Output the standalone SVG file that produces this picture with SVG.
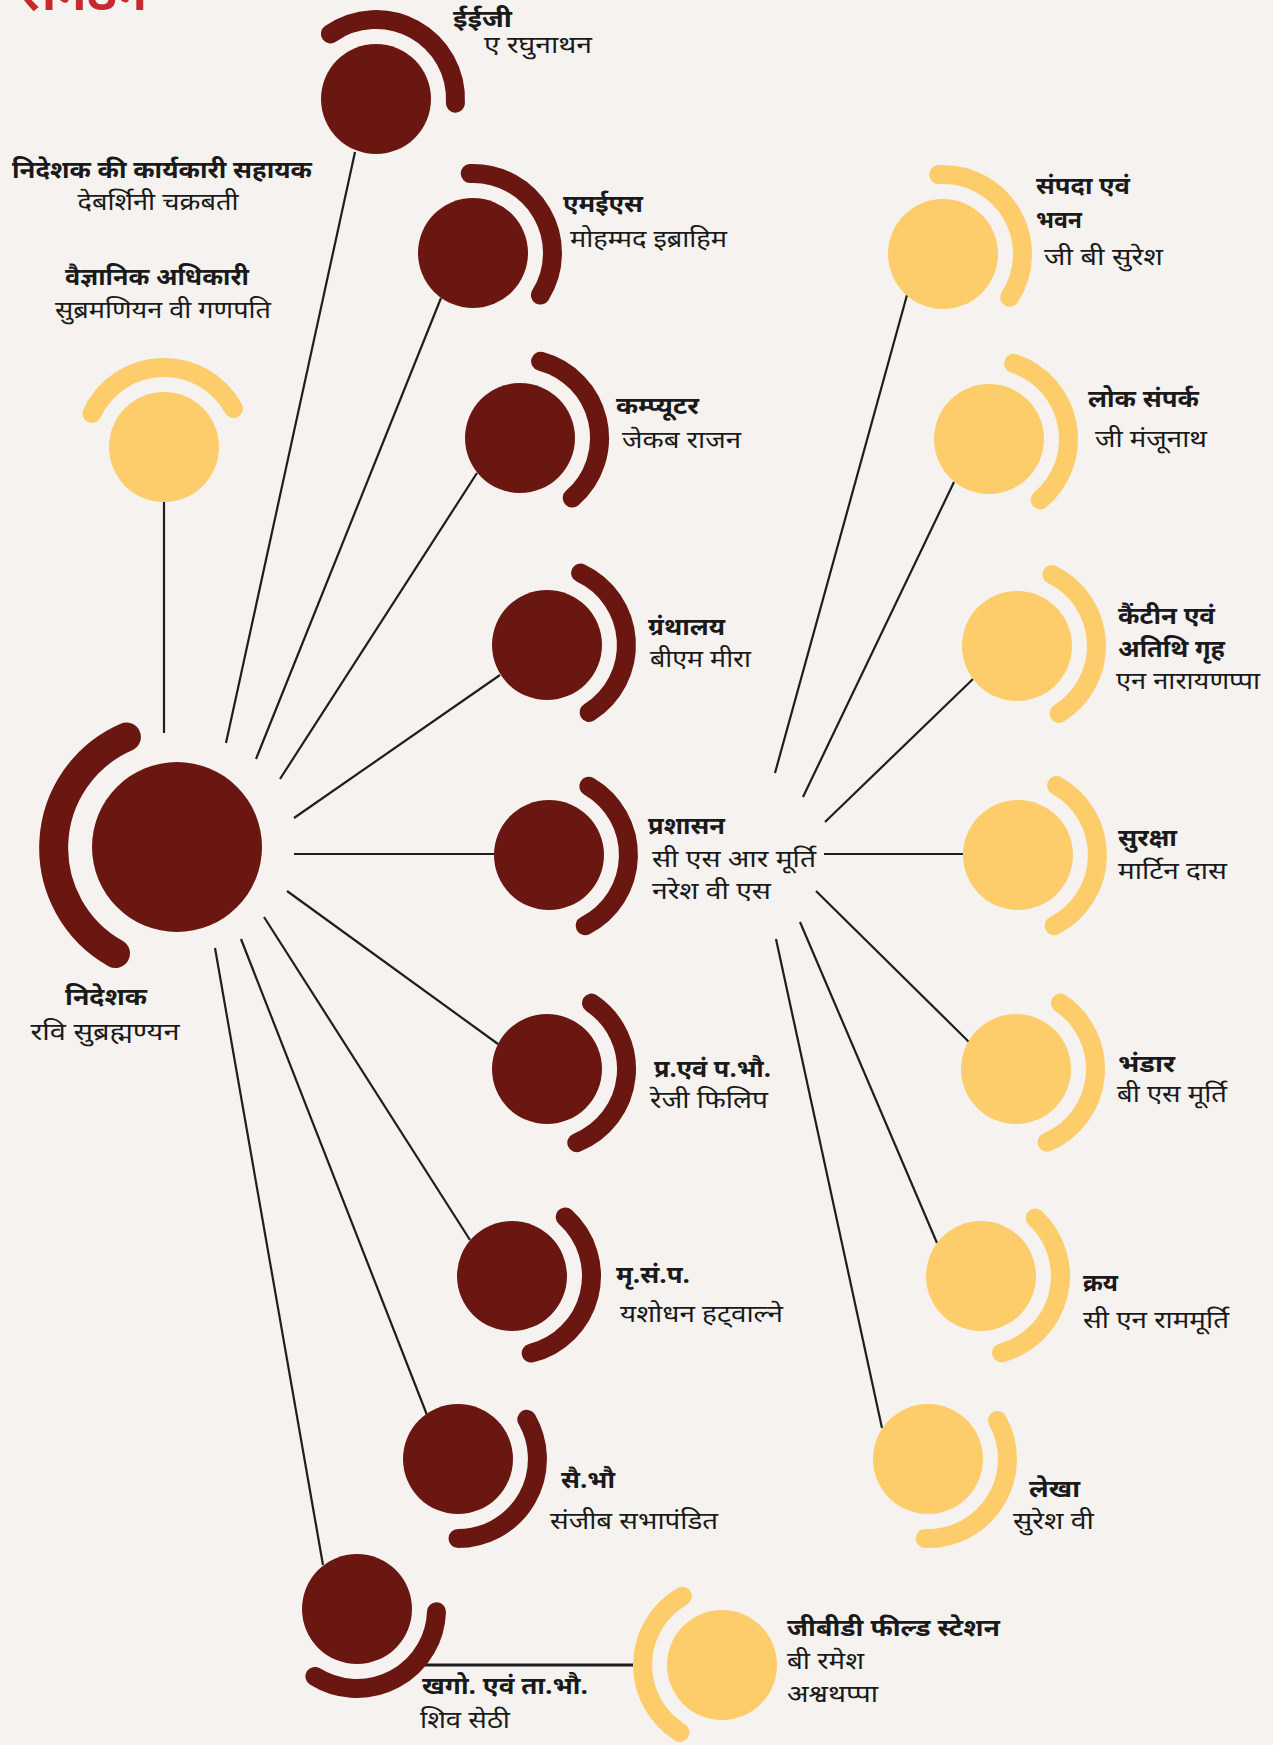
<svg xmlns="http://www.w3.org/2000/svg" width="1273" height="1745" viewBox="0 0 1273 1745">
<style>
.bg{fill:#f5f2f0}
.dk{fill:#6b1711}
.lt{fill:#fecd6b}
.adk{fill:none;stroke:#6b1711;stroke-width:19;stroke-linecap:round}
.alt{fill:none;stroke:#fecd6b;stroke-width:19;stroke-linecap:round}
.ln{stroke:#1e1e1e;stroke-width:2.2;fill:none}
text{font-family:"Noto Sans Devanagari","Lohit Devanagari","Noto Sans",sans-serif;fill:#1a1a1a;font-size:24px}
.t{font-weight:bold}
.n{font-weight:normal}
</style>
<rect class="bg" x="0" y="0" width="1273" height="1745"/>
<text x="20" y="10" textLength="127" lengthAdjust="spacingAndGlyphs" style="font-size:50px;font-weight:bold;fill:#c62a2f">संगठन</text>
<g id="connectors">
<line class="ln" x1="164" y1="502" x2="164" y2="733"/>
<line class="ln" x1="355" y1="152" x2="226" y2="743"/>
<line class="ln" x1="441" y1="298" x2="256" y2="759"/>
<line class="ln" x1="477" y1="473" x2="280" y2="779"/>
<line class="ln" x1="500" y1="675" x2="294" y2="818"/>
<line class="ln" x1="294" y1="854" x2="494" y2="854"/>
<line class="ln" x1="287" y1="891" x2="498" y2="1044"/>
<line class="ln" x1="264" y1="917" x2="470" y2="1240"/>
<line class="ln" x1="241" y1="939" x2="427" y2="1415"/>
<line class="ln" x1="215" y1="948" x2="323" y2="1565"/>
<line class="ln" x1="775" y1="773" x2="907" y2="295"/>
<line class="ln" x1="803" y1="797" x2="954" y2="482"/>
<line class="ln" x1="825" y1="822" x2="973" y2="679"/>
<line class="ln" x1="824" y1="854" x2="963" y2="854"/>
<line class="ln" x1="816" y1="891" x2="969" y2="1042"/>
<line class="ln" x1="800" y1="922" x2="937" y2="1243"/>
<line class="ln" x1="776" y1="939" x2="882" y2="1428"/>
<line class="ln" x1="422" y1="1665" x2="633" y2="1665" style="stroke-width:3"/>
</g>
<g id="director">
<path class="adk" d="M115.5,953.5 A121,121 0 0 1 126.4,737" style="stroke-width:29"/>
<circle class="dk" cx="177" cy="847" r="85"/>
<text class="t" x="106" y="1005" text-anchor="middle" textLength="82" lengthAdjust="spacingAndGlyphs">निदेशक</text>
<text class="n" x="105" y="1040" text-anchor="middle" textLength="149" lengthAdjust="spacingAndGlyphs">रवि सुब्रह्मण्यन</text>
</g>
<g id="exec-assistant">
<text class="t" x="162" y="178" text-anchor="middle" textLength="300" lengthAdjust="spacingAndGlyphs">निदेशक की कार्यकारी सहायक</text>
<text class="n" x="158" y="210" text-anchor="middle" textLength="161" lengthAdjust="spacingAndGlyphs">देबर्शिनी चक्रबती</text>
</g>
<g id="sci-officer">
<path class="alt" d="M91.9,413.4 A79.5,79.5 0 0 1 233.5,408.5"/>
<circle class="lt" cx="164" cy="447" r="55"/>
<text class="t" x="157" y="285" text-anchor="middle" textLength="184" lengthAdjust="spacingAndGlyphs">वैज्ञानिक अधिकारी</text>
<text class="n" x="163" y="318" text-anchor="middle" textLength="216" lengthAdjust="spacingAndGlyphs">सुब्रमणियन वी गणपति</text>
</g>
<g id="eeg">
<path class="adk" d="M330.4,33.9 A79.5,79.5 0 0 1 455.4,103.2"/>
<circle class="dk" cx="376" cy="99" r="55"/>
<text class="t" x="453" y="27" textLength="59" lengthAdjust="spacingAndGlyphs">ईईजी</text>
<text class="n" x="484" y="53" textLength="108" lengthAdjust="spacingAndGlyphs">ए रघुनाथन</text>
</g>
<g id="mes">
<path class="adk" d="M470.2,173.5 A79.5,79.5 0 0 1 540.4,295.1"/>
<circle class="dk" cx="473" cy="253" r="55"/>
<text class="t" x="563" y="212" textLength="80" lengthAdjust="spacingAndGlyphs">एमईएस</text>
<text class="n" x="570" y="247" textLength="157" lengthAdjust="spacingAndGlyphs">मोहम्मद इब्राहिम</text>
</g>
<g id="computer">
<path class="adk" d="M540.6,361.2 A79.5,79.5 0 0 1 572.2,498"/>
<circle class="dk" cx="520" cy="438" r="55"/>
<text class="t" x="616" y="414" textLength="83" lengthAdjust="spacingAndGlyphs">कम्प्यूटर</text>
<text class="n" x="622" y="448" textLength="119" lengthAdjust="spacingAndGlyphs">जेकब राजन</text>
</g>
<g id="library">
<path class="adk" d="M580.6,573 A79.5,79.5 0 0 1 589.1,712.4"/>
<circle class="dk" cx="547" cy="645" r="55"/>
<text class="t" x="648" y="635" textLength="77" lengthAdjust="spacingAndGlyphs">ग्रंथालय</text>
<text class="n" x="650" y="667" textLength="101" lengthAdjust="spacingAndGlyphs">बीएम मीरा</text>
</g>
<g id="admin">
<path class="adk" d="M588.8,786.2 A79.5,79.5 0 0 1 585.1,925.8"/>
<circle class="dk" cx="549" cy="855" r="55"/>
<text class="t" x="648" y="834" textLength="77" lengthAdjust="spacingAndGlyphs">प्रशासन</text>
<text class="n" x="652" y="867" textLength="164" lengthAdjust="spacingAndGlyphs">सी एस आर मूर्ति</text>
<text class="n" x="652" y="899" textLength="119" lengthAdjust="spacingAndGlyphs">नरेश वी एस</text>
</g>
<g id="ppp">
<path class="adk" d="M591.5,1003.1 A79.5,79.5 0 0 1 576.8,1142.7"/>
<circle class="dk" cx="547" cy="1069" r="55"/>
<text class="t" x="654" y="1077" textLength="117" lengthAdjust="spacingAndGlyphs">प्र.एवं प.भौ.</text>
<text class="n" x="650" y="1108" textLength="118" lengthAdjust="spacingAndGlyphs">रेजी फिलिप</text>
</g>
<g id="msp">
<path class="adk" d="M565.2,1216.9 A79.5,79.5 0 0 1 531.2,1353.1"/>
<circle class="dk" cx="512" cy="1276" r="55"/>
<text class="t" x="616" y="1283" textLength="74" lengthAdjust="spacingAndGlyphs">मृ.सं.प.</text>
<text class="n" x="620" y="1322" textLength="163" lengthAdjust="spacingAndGlyphs">यशोधन हट्वाल्ने</text>
</g>
<g id="saibhau">
<path class="adk" d="M526.8,1419.3 A79.5,79.5 0 0 1 458,1538.5"/>
<circle class="dk" cx="458" cy="1459" r="55"/>
<text class="t" x="561" y="1488" textLength="54" lengthAdjust="spacingAndGlyphs">सै.भौ</text>
<text class="n" x="550" y="1529" textLength="168" lengthAdjust="spacingAndGlyphs">संजीब सभापंडित</text>
</g>
<g id="khago">
<path class="adk" d="M436.5,1611.8 A79.5,79.5 0 0 1 314.9,1676.4"/>
<circle class="dk" cx="357" cy="1609" r="55"/>
<text class="t" x="422" y="1694" textLength="166" lengthAdjust="spacingAndGlyphs">खगो. एवं ता.भौ.</text>
<text class="n" x="420" y="1728" textLength="90" lengthAdjust="spacingAndGlyphs">शिव सेठी</text>
</g>
<g id="gbd">
<path class="alt" d="M679.9,1732.4 A79.5,79.5 0 0 1 682.3,1596.2"/>
<circle class="lt" cx="722" cy="1665" r="55"/>
<text class="t" x="787" y="1636" textLength="213" lengthAdjust="spacingAndGlyphs">जीबीडी फील्ड स्टेशन</text>
<text class="n" x="787" y="1669" textLength="77" lengthAdjust="spacingAndGlyphs">बी रमेश</text>
<text class="n" x="787" y="1702" textLength="91" lengthAdjust="spacingAndGlyphs">अश्वथप्पा</text>
</g>
<g id="estate">
<path class="alt" d="M938.8,174.6 A79.5,79.5 0 0 1 1009.7,297.3"/>
<circle class="lt" cx="943" cy="254" r="55"/>
<text class="t" x="1036" y="194" textLength="94" lengthAdjust="spacingAndGlyphs">संपदा एवं</text>
<text class="t" x="1036" y="228" textLength="46" lengthAdjust="spacingAndGlyphs">भवन</text>
<text class="n" x="1044" y="265" textLength="119" lengthAdjust="spacingAndGlyphs">जी बी सुरेश</text>
</g>
<g id="pr">
<path class="alt" d="M1013.6,363.4 A79.5,79.5 0 0 1 1040.1,499.9"/>
<circle class="lt" cx="989" cy="439" r="55"/>
<text class="t" x="1088" y="407" textLength="111" lengthAdjust="spacingAndGlyphs">लोक संपर्क</text>
<text class="n" x="1095" y="447" textLength="112" lengthAdjust="spacingAndGlyphs">जी मंजूनाथ</text>
</g>
<g id="canteen">
<path class="alt" d="M1051.9,574.5 A79.5,79.5 0 0 1 1059.1,713.4"/>
<circle class="lt" cx="1017" cy="646" r="55"/>
<text class="t" x="1118" y="624" textLength="97" lengthAdjust="spacingAndGlyphs">कैंटीन एवं</text>
<text class="t" x="1118" y="657" textLength="107" lengthAdjust="spacingAndGlyphs">अतिथि गृह</text>
<text class="n" x="1116" y="689" textLength="144" lengthAdjust="spacingAndGlyphs">एन नारायणप्पा</text>
</g>
<g id="security">
<path class="alt" d="M1056.5,785.5 A79.5,79.5 0 0 1 1054.1,925.8"/>
<circle class="lt" cx="1018" cy="855" r="55"/>
<text class="t" x="1118" y="846" textLength="59" lengthAdjust="spacingAndGlyphs">सुरक्षा</text>
<text class="n" x="1118" y="879" textLength="109" lengthAdjust="spacingAndGlyphs">मार्टिन दास</text>
</g>
<g id="stores">
<path class="alt" d="M1060.5,1003.1 A79.5,79.5 0 0 1 1047.1,1142.2"/>
<circle class="lt" cx="1016" cy="1069" r="55"/>
<text class="t" x="1118" y="1072" textLength="57" lengthAdjust="spacingAndGlyphs">भंडार</text>
<text class="n" x="1117" y="1102" textLength="110" lengthAdjust="spacingAndGlyphs">बी एस मूर्ति</text>
</g>
<g id="purchase">
<path class="alt" d="M1035.2,1217.9 A79.5,79.5 0 0 1 1001.6,1352.8"/>
<circle class="lt" cx="981" cy="1276" r="55"/>
<text class="t" x="1083" y="1291" textLength="35" lengthAdjust="spacingAndGlyphs">क्रय</text>
<text class="n" x="1083" y="1328" textLength="146" lengthAdjust="spacingAndGlyphs">सी एन राममूर्ति</text>
</g>
<g id="accounts">
<path class="alt" d="M997.5,1420.5 A79.5,79.5 0 0 1 925.2,1538.5"/>
<circle class="lt" cx="928" cy="1459" r="55"/>
<text class="t" x="1029" y="1497" textLength="51" lengthAdjust="spacingAndGlyphs">लेखा</text>
<text class="n" x="1013" y="1529" textLength="81" lengthAdjust="spacingAndGlyphs">सुरेश वी</text>
</g>
</svg>
